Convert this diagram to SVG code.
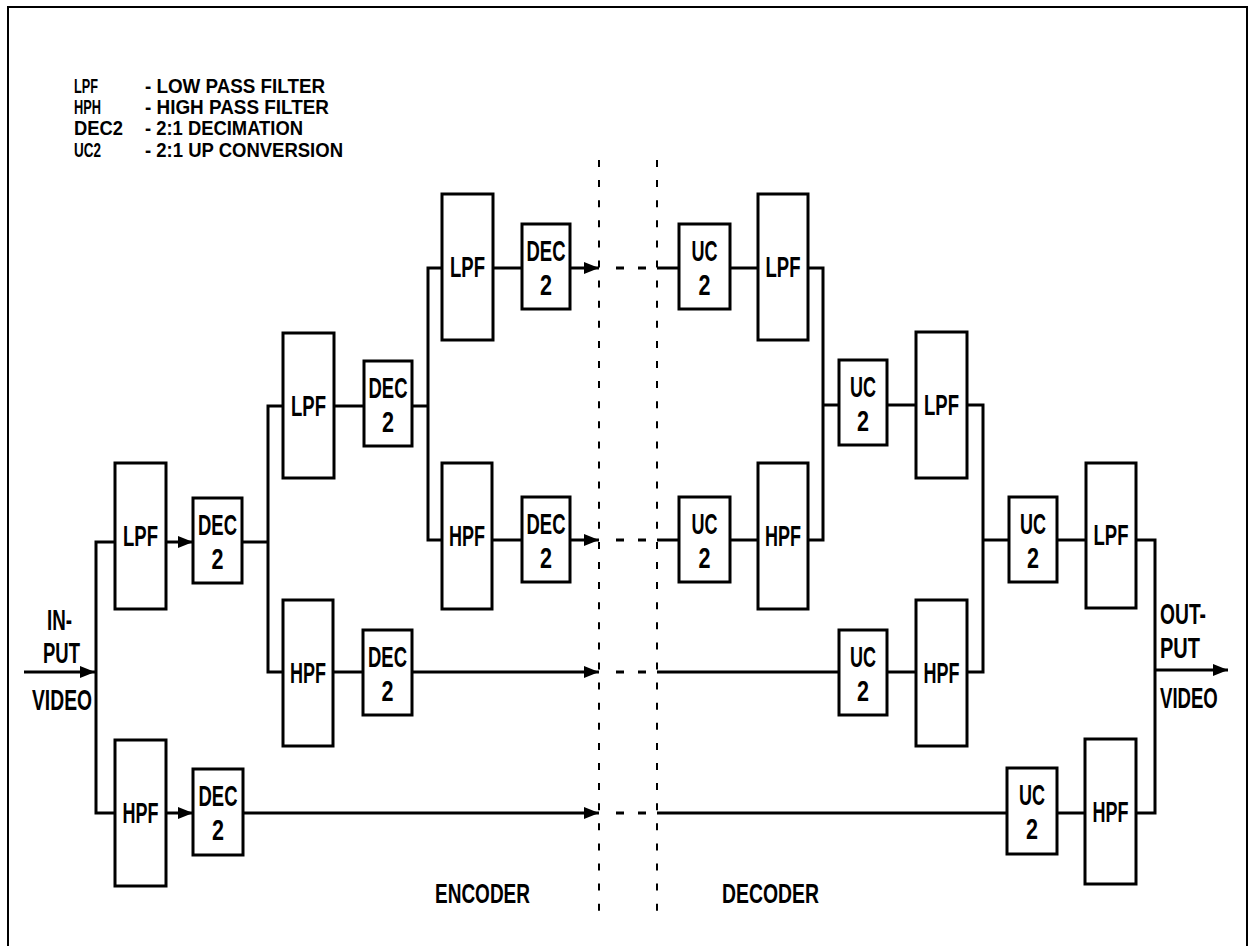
<svg xmlns="http://www.w3.org/2000/svg" width="1249" height="946" viewBox="0 0 1249 946">
<style>
.frame{fill:none;stroke:#000;stroke-width:2}
.box{fill:#fff;stroke:#000;stroke-width:3}
.wire{fill:none;stroke:#000;stroke-width:3}
.arr{fill:none;stroke:#000;stroke-width:3;marker-end:url(#ah)}
.gap{fill:none;stroke:#000;stroke-width:3;stroke-dasharray:8 14}
.sep{fill:none;stroke:#000;stroke-width:2;stroke-dasharray:7 13.1}
text{font-family:"Liberation Sans",Arial,sans-serif;font-weight:bold;fill:#000}
.lbl{font-size:30px;text-anchor:middle}
.leg{font-size:20px}
.io{font-size:30px}
.sec{font-size:28px}
</style>
<defs>
<marker id="ah" markerUnits="userSpaceOnUse" markerWidth="15" markerHeight="12" refX="15" refY="6" orient="auto">
<path d="M0,0 L15,6 L0,12 z" fill="#000"/>
</marker>
</defs>
<rect class="frame" x="8" y="7" width="1239" height="960"/>

<g id="legend">
<text class="leg" x="74" y="93" textLength="24" lengthAdjust="spacingAndGlyphs">LPF</text>
<text class="leg" x="145" y="93" textLength="180" lengthAdjust="spacingAndGlyphs">- LOW PASS FILTER</text>
<text class="leg" x="74" y="114" textLength="27" lengthAdjust="spacingAndGlyphs">HPH</text>
<text class="leg" x="145" y="114" textLength="184" lengthAdjust="spacingAndGlyphs">- HIGH PASS FILTER</text>
<text class="leg" x="74" y="135" textLength="49" lengthAdjust="spacingAndGlyphs">DEC2</text>
<text class="leg" x="145" y="135" textLength="158" lengthAdjust="spacingAndGlyphs">- 2:1 DECIMATION</text>
<text class="leg" x="74" y="157" textLength="27" lengthAdjust="spacingAndGlyphs">UC2</text>
<text class="leg" x="145" y="157" textLength="198" lengthAdjust="spacingAndGlyphs">- 2:1 UP CONVERSION</text>
</g>

<g id="separators">
<line class="sep" x1="599" y1="160" x2="599" y2="912"/>
<line class="sep" x1="657" y1="160" x2="657" y2="912"/>
</g>

<g id="connectors">
<path class="arr" d="M24,672 H95"/>
<path class="wire" d="M115,542 H96 V813 H115"/>
<path class="arr" d="M166,542 H193"/>
<path class="arr" d="M166,813 H193"/>
<path class="wire" d="M242,542 H268"/>
<path class="wire" d="M283,406 H268 V672 H283"/>
<path class="arr" d="M243,813 H599"/>
<path class="wire" d="M334,406 H364"/>
<path class="wire" d="M412,406 H428"/>
<path class="wire" d="M442,268 H428 V540 H442"/>
<path class="wire" d="M333,672 H363"/>
<path class="arr" d="M412,672 H599"/>
<path class="wire" d="M493,268 H522"/>
<path class="arr" d="M570,268 H599"/>
<path class="wire" d="M492,540 H522"/>
<path class="arr" d="M570,540 H599"/>
<path class="gap" d="M616,268 H646"/>
<path class="gap" d="M616,540 H646"/>
<path class="gap" d="M616,672 H646"/>
<path class="gap" d="M616,813 H646"/>
<path class="wire" d="M657,268 H679"/>
<path class="wire" d="M730,268 H758"/>
<path class="wire" d="M657,540 H679"/>
<path class="wire" d="M730,540 H758"/>
<path class="wire" d="M808,268 H823 V540 H808"/>
<path class="wire" d="M823,405 H839"/>
<path class="wire" d="M887,405 H916"/>
<path class="wire" d="M657,672 H839"/>
<path class="wire" d="M887,672 H916"/>
<path class="wire" d="M967,405 H983 V672 H967"/>
<path class="wire" d="M983,540 H1009"/>
<path class="wire" d="M1057,540 H1086"/>
<path class="wire" d="M657,813 H1007"/>
<path class="wire" d="M1057,813 H1085"/>
<path class="wire" d="M1136,540 H1155 V813 H1136"/>
<path class="arr" d="M1155,670 H1228"/>
</g>

<g id="e-lpf1"><rect class="box" x="115" y="463" width="51" height="146"/><text class="lbl" x="140.5" y="546" textLength="35" lengthAdjust="spacingAndGlyphs">LPF</text></g>
<g id="e-dec1a"><rect class="box" x="193" y="498" width="49" height="85"/><text class="lbl" x="217.5" y="535" textLength="39" lengthAdjust="spacingAndGlyphs">DEC</text><text class="lbl" x="217.5" y="569" textLength="12" lengthAdjust="spacingAndGlyphs">2</text></g>
<g id="e-hpf1"><rect class="box" x="115" y="740" width="51" height="146"/><text class="lbl" x="140.5" y="823" textLength="36" lengthAdjust="spacingAndGlyphs">HPF</text></g>
<g id="e-dec1b"><rect class="box" x="193" y="769" width="50" height="86"/><text class="lbl" x="218" y="806" textLength="39" lengthAdjust="spacingAndGlyphs">DEC</text><text class="lbl" x="218" y="840" textLength="12" lengthAdjust="spacingAndGlyphs">2</text></g>
<g id="e-lpf2"><rect class="box" x="283" y="333" width="51" height="145"/><text class="lbl" x="308.5" y="416" textLength="35" lengthAdjust="spacingAndGlyphs">LPF</text></g>
<g id="e-dec2a"><rect class="box" x="364" y="361" width="48" height="85"/><text class="lbl" x="388" y="398" textLength="39" lengthAdjust="spacingAndGlyphs">DEC</text><text class="lbl" x="388" y="432" textLength="12" lengthAdjust="spacingAndGlyphs">2</text></g>
<g id="e-hpf2"><rect class="box" x="283" y="600" width="50" height="146"/><text class="lbl" x="308" y="683" textLength="36" lengthAdjust="spacingAndGlyphs">HPF</text></g>
<g id="e-dec2b"><rect class="box" x="363" y="630" width="49" height="85"/><text class="lbl" x="387.5" y="667" textLength="39" lengthAdjust="spacingAndGlyphs">DEC</text><text class="lbl" x="387.5" y="701" textLength="12" lengthAdjust="spacingAndGlyphs">2</text></g>
<g id="e-lpf3"><rect class="box" x="442" y="194" width="51" height="146"/><text class="lbl" x="467.5" y="277" textLength="35" lengthAdjust="spacingAndGlyphs">LPF</text></g>
<g id="e-dec3a"><rect class="box" x="522" y="224" width="48" height="85"/><text class="lbl" x="546" y="261" textLength="39" lengthAdjust="spacingAndGlyphs">DEC</text><text class="lbl" x="546" y="295" textLength="12" lengthAdjust="spacingAndGlyphs">2</text></g>
<g id="e-hpf3"><rect class="box" x="442" y="463" width="50" height="146"/><text class="lbl" x="467" y="546" textLength="36" lengthAdjust="spacingAndGlyphs">HPF</text></g>
<g id="e-dec3b"><rect class="box" x="522" y="497" width="48" height="85"/><text class="lbl" x="546" y="534" textLength="39" lengthAdjust="spacingAndGlyphs">DEC</text><text class="lbl" x="546" y="568" textLength="12" lengthAdjust="spacingAndGlyphs">2</text></g>

<g id="d-uc3a"><rect class="box" x="679" y="224" width="51" height="85"/><text class="lbl" x="704.5" y="261" textLength="26" lengthAdjust="spacingAndGlyphs">UC</text><text class="lbl" x="704.5" y="295" textLength="12" lengthAdjust="spacingAndGlyphs">2</text></g>
<g id="d-lpf3"><rect class="box" x="758" y="194" width="50" height="146"/><text class="lbl" x="783" y="277" textLength="35" lengthAdjust="spacingAndGlyphs">LPF</text></g>
<g id="d-uc3b"><rect class="box" x="679" y="497" width="51" height="85"/><text class="lbl" x="704.5" y="534" textLength="26" lengthAdjust="spacingAndGlyphs">UC</text><text class="lbl" x="704.5" y="568" textLength="12" lengthAdjust="spacingAndGlyphs">2</text></g>
<g id="d-hpf3"><rect class="box" x="758" y="463" width="50" height="146"/><text class="lbl" x="783" y="546" textLength="36" lengthAdjust="spacingAndGlyphs">HPF</text></g>
<g id="d-uc2a"><rect class="box" x="839" y="360" width="48" height="85"/><text class="lbl" x="863" y="397" textLength="26" lengthAdjust="spacingAndGlyphs">UC</text><text class="lbl" x="863" y="431" textLength="12" lengthAdjust="spacingAndGlyphs">2</text></g>
<g id="d-lpf2"><rect class="box" x="916" y="332" width="51" height="146"/><text class="lbl" x="941.5" y="415" textLength="35" lengthAdjust="spacingAndGlyphs">LPF</text></g>
<g id="d-uc2b"><rect class="box" x="839" y="630" width="48" height="85"/><text class="lbl" x="863" y="667" textLength="26" lengthAdjust="spacingAndGlyphs">UC</text><text class="lbl" x="863" y="701" textLength="12" lengthAdjust="spacingAndGlyphs">2</text></g>
<g id="d-hpf2"><rect class="box" x="916" y="600" width="51" height="146"/><text class="lbl" x="941.5" y="683" textLength="36" lengthAdjust="spacingAndGlyphs">HPF</text></g>
<g id="d-uc1a"><rect class="box" x="1009" y="497" width="48" height="85"/><text class="lbl" x="1033" y="534" textLength="26" lengthAdjust="spacingAndGlyphs">UC</text><text class="lbl" x="1033" y="568" textLength="12" lengthAdjust="spacingAndGlyphs">2</text></g>
<g id="d-lpf1"><rect class="box" x="1086" y="463" width="50" height="145"/><text class="lbl" x="1111" y="545" textLength="35" lengthAdjust="spacingAndGlyphs">LPF</text></g>
<g id="d-uc1b"><rect class="box" x="1007" y="768" width="50" height="86"/><text class="lbl" x="1032" y="805" textLength="26" lengthAdjust="spacingAndGlyphs">UC</text><text class="lbl" x="1032" y="839" textLength="12" lengthAdjust="spacingAndGlyphs">2</text></g>
<g id="d-hpf1"><rect class="box" x="1085" y="739" width="51" height="145"/><text class="lbl" x="1110.5" y="822" textLength="36" lengthAdjust="spacingAndGlyphs">HPF</text></g>

<g id="input">
<text class="io" x="47" y="630" textLength="25" lengthAdjust="spacingAndGlyphs">IN-</text>
<text class="io" x="43" y="663" textLength="37" lengthAdjust="spacingAndGlyphs">PUT</text>
<text class="io" x="32" y="710" textLength="60" lengthAdjust="spacingAndGlyphs">VIDEO</text>
</g>
<g id="output">
<text class="io" x="1160" y="624" textLength="46" lengthAdjust="spacingAndGlyphs">OUT-</text>
<text class="io" x="1160" y="658" textLength="40" lengthAdjust="spacingAndGlyphs">PUT</text>
<text class="io" transform="translate(1160,708) scale(0.62,1)">VIDEO</text>
</g>
<g id="sections">
<text class="sec" x="435" y="903" textLength="95" lengthAdjust="spacingAndGlyphs">ENCODER</text>
<text class="sec" x="722" y="903" textLength="97" lengthAdjust="spacingAndGlyphs">DECODER</text>
</g>
</svg>
